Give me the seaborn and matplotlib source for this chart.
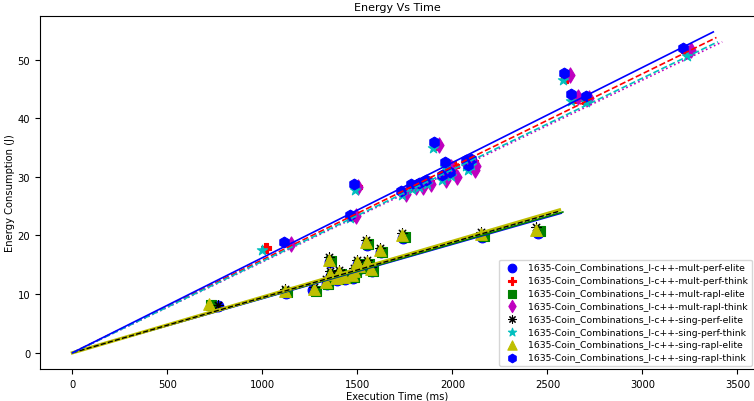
import seaborn as sns
import matplotlib.pyplot as plt
import numpy as np

prefix = '1635-Coin_Combinations_l-c++-'
labels = ['mult-perf-elite', 'mult-perf-think', 'mult-rapl-elite', 'mult-rapl-think',
          'sing-perf-elite', 'sing-perf-think', 'sing-rapl-elite', 'sing-rapl-think']

# execution time (ms) / energy (J) per configuration
mult_perf_elite_x = [766, 1125, 1268, 1340, 1355, 1360, 1390, 1408, 1436, 1478, 1486, 1503, 1516, 1556, 1550, 1576, 1622, 1742, 2158, 2450]
mult_perf_elite_y = [8.0, 10.2, 10.7, 11.8, 15.4, 13.1, 12.4, 13.4, 12.6, 12.8, 13.6, 15.1, 14.4, 15.0, 18.3, 13.9, 17.1, 19.5, 19.8, 20.5]

mult_perf_think_x = [1019, 1474, 1497, 1748, 1800, 1838, 1876, 1920, 1958, 1975, 2010, 2085, 2095, 2110, 2600, 2640, 2690, 3228]
mult_perf_think_y = [17.8, 23.4, 28.2, 27.2, 28.4, 28.6, 29.2, 35.4, 30.0, 32.0, 31.8, 32.4, 31.6, 32.6, 46.9, 43.5, 43.3, 51.4]

mult_rapl_elite_x = [730, 1130, 1283, 1345, 1362, 1368, 1398, 1415, 1442, 1484, 1492, 1510, 1523, 1562, 1557, 1583, 1630, 1750, 2166, 2458]
mult_rapl_elite_y = [8.1, 10.3, 10.6, 11.8, 15.6, 13.2, 12.5, 13.5, 12.7, 12.9, 13.7, 15.2, 14.5, 15.1, 18.6, 14.0, 17.2, 19.7, 19.9, 20.7]

mult_rapl_think_x = [1149, 1490, 1505, 1755, 1808, 1846, 1885, 1930, 1968, 1990, 2025, 2110, 2120, 2125, 2620, 2660, 2720, 3257]
mult_rapl_think_y = [18.6, 23.3, 28.3, 27.0, 28.2, 28.3, 28.8, 35.5, 29.5, 31.7, 30.0, 32.0, 31.2, 31.8, 47.3, 43.6, 43.4, 51.6]

sing_perf_elite_x = [766, 1119, 1270, 1332, 1350, 1355, 1385, 1402, 1430, 1471, 1480, 1497, 1510, 1549, 1545, 1570, 1618, 1736, 2152, 2441]
sing_perf_elite_y = [8.1, 10.9, 11.3, 12.5, 16.3, 13.9, 13.2, 14.2, 13.4, 13.6, 14.4, 15.9, 15.2, 15.8, 19.3, 14.7, 17.9, 20.4, 20.6, 21.4]

sing_perf_think_x = [998, 1462, 1485, 1735, 1787, 1826, 1864, 1900, 1947, 1963, 1990, 2072, 2083, 2098, 2580, 2625, 2705, 3235]
sing_perf_think_y = [17.6, 22.9, 27.7, 26.9, 28.0, 28.3, 28.8, 35.0, 29.5, 31.6, 30.1, 31.9, 31.2, 32.1, 46.5, 42.9, 42.7, 50.6]

sing_rapl_elite_x = [717, 1119, 1270, 1332, 1350, 1355, 1385, 1402, 1430, 1471, 1480, 1497, 1510, 1549, 1545, 1570, 1618, 1736, 2152, 2441]
sing_rapl_elite_y = [8.4, 10.5, 10.9, 12.1, 15.9, 13.5, 12.8, 13.8, 13.0, 13.2, 14.0, 15.5, 14.8, 15.4, 18.9, 14.3, 17.5, 20.0, 20.2, 21.0]

sing_rapl_think_x = [1112, 1459, 1483, 1731, 1783, 1823, 1861, 1904, 1944, 1961, 1985, 2069, 2080, 2095, 2588, 2623, 2701, 3212]
sing_rapl_think_y = [18.9, 23.5, 28.7, 27.5, 28.7, 29.0, 29.5, 36.0, 30.3, 32.5, 30.8, 32.8, 32.0, 33.0, 47.7, 44.2, 43.8, 52.0]

# fitted slopes (J per ms) of the trend lines through the origin
slopes = [0.00925, 0.01586, 0.00930, 0.01550, 0.00942, 0.01561, 0.00950, 0.01622]

xs = [mult_perf_elite_x, mult_perf_think_x, mult_rapl_elite_x, mult_rapl_think_x,
      sing_perf_elite_x, sing_perf_think_x, sing_rapl_elite_x, sing_rapl_think_x]
ys = [mult_perf_elite_y, mult_perf_think_y, mult_rapl_elite_y, mult_rapl_think_y,
      sing_perf_elite_y, sing_perf_think_y, sing_rapl_elite_y, sing_rapl_think_y]

colors = ['b', 'r', 'g', 'm', 'k', 'c', 'y', 'b']
markers = ['o', 'P', 's', 'd', (8, 2, 0), '*', '^', 'h']
styles = ['-', '--', '-', ':', '--', '--', '-', '-']
widths = [1.2, 1.2, 1.2, 1.2, 1.0, 1.2, 2.4, 1.2]
sizes = [60, 60, 60, 60, 45, 60, 70, 60]

fig = plt.figure(figsize=(7.54, 4.02), dpi=100)
ax = fig.add_axes([0.053, 0.080, 0.948, 0.878])

order = [0, 1, 2, 3, 6, 4, 5, 7]
for i in order:
    xl = np.array([0, max(xs[i]) * 1.05])
    sns.lineplot(x=xl, y=slopes[i] * xl, color=colors[i], linestyle=styles[i],
                 linewidth=widths[i], ax=ax)

for i in range(len(labels)):
    sns.scatterplot(x=xs[i], y=ys[i], color=colors[i], marker=markers[i], s=sizes[i],
                    edgecolor=colors[i], linewidth=0.8, label=prefix + labels[i], ax=ax)

ax.set_title('Energy Vs Time', fontsize=8, pad=4)
ax.set_xlabel('Execution Time (ms)', fontsize=7.2, labelpad=1.5)
ax.set_ylabel('Energy Consumption (J)', fontsize=7.2, labelpad=2)
ax.tick_params(labelsize=7.2)
ax.legend(loc='lower right', fontsize=6.65, markerscale=0.8, borderaxespad=0.3,
          labelspacing=0.42)
plt.savefig('out.png', dpi=100)
